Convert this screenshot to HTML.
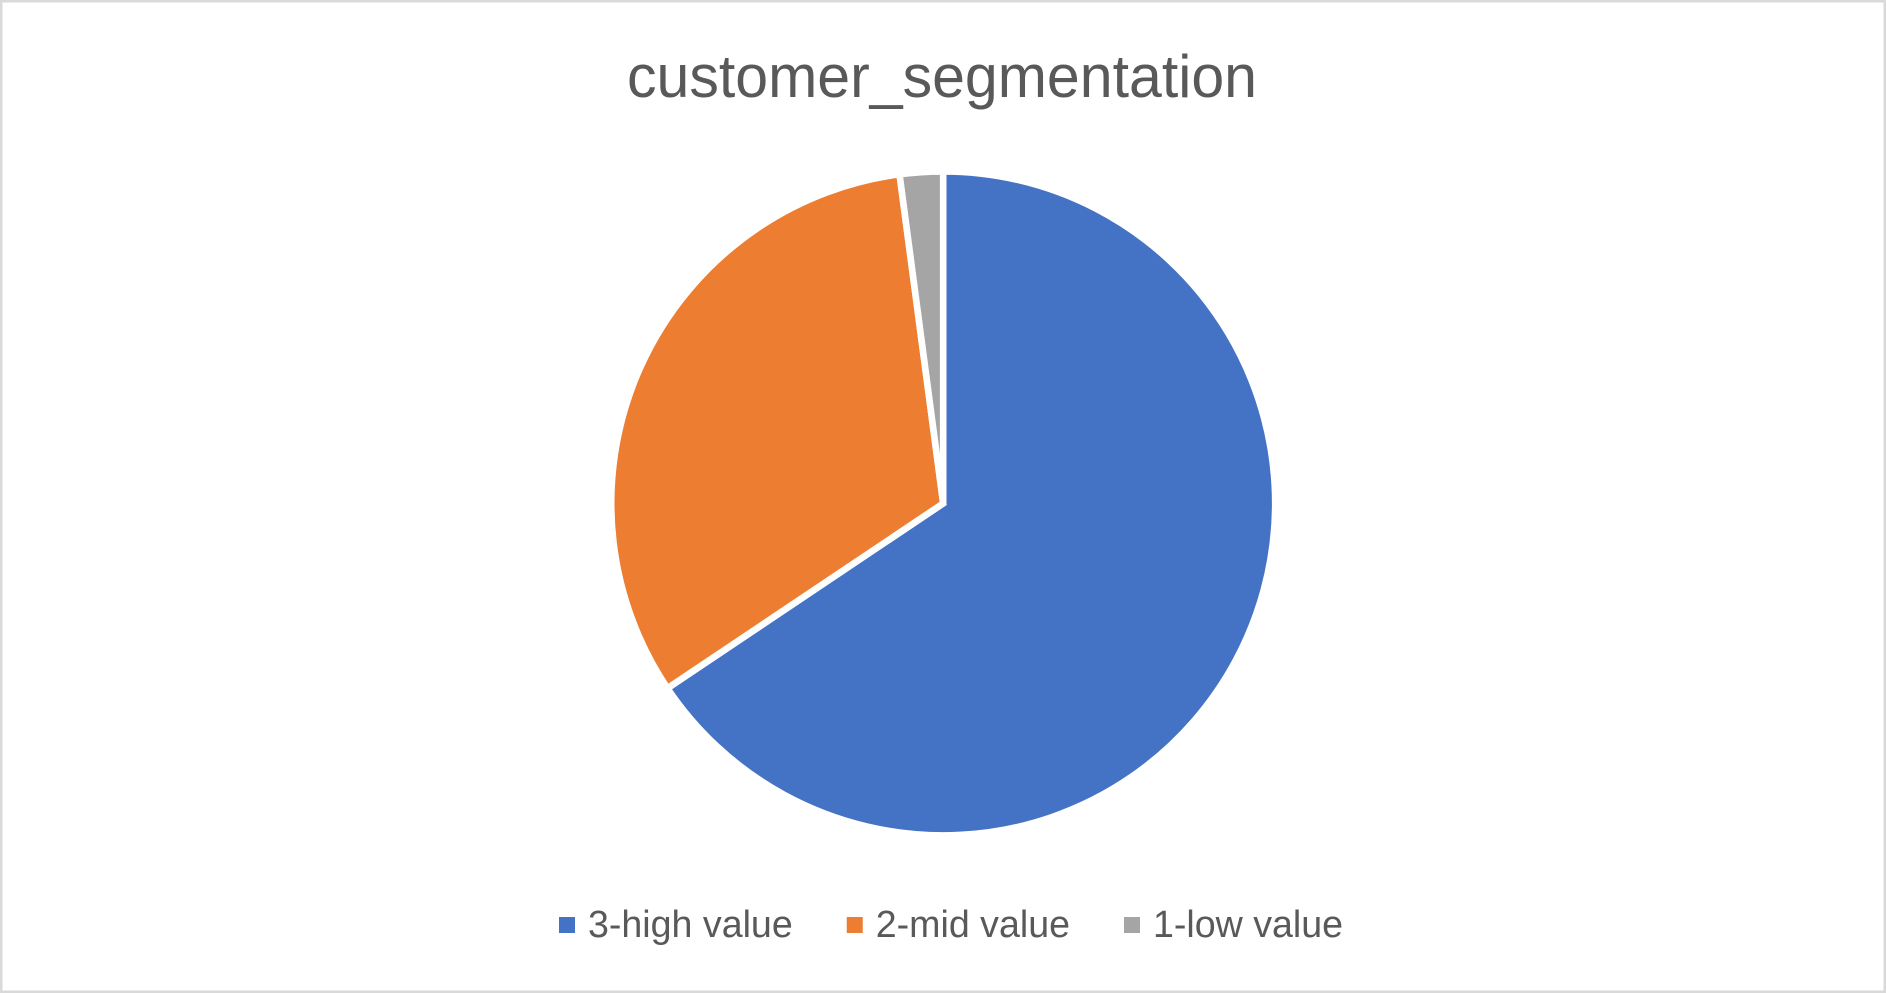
<!DOCTYPE html>
<html lang="en">
<head>
<meta charset="utf-8">
<title>customer_segmentation</title>
<style>
  html, body { margin: 0; padding: 0; background: #ffffff; }
  body { width: 1886px; height: 993px; overflow: hidden; }
  svg { display: block; }
  text { font-family: "Liberation Sans", sans-serif; fill: #595959; }
</style>
</head>
<body>
<svg id="chart" xmlns="http://www.w3.org/2000/svg" width="1886" height="993" viewBox="0 0 1886 993">
  <rect x="1.25" y="1.25" width="1883.5" height="990.5" fill="#ffffff" stroke="#d9d9d9" stroke-width="2.5"></rect>
  <text x="627" y="97" font-size="60" textLength="630" lengthAdjust="spacingAndGlyphs">customer_segmentation</text>
  <g id="slices"></g>
  <g id="legend"></g>
</svg>
<script>
const categories = ['3-high value', '2-mid value', '1-low value'];
const shares = [65.6, 32.3, 2.1];
const sliceColors = ['#4472C4', '#ED7D31', '#A5A5A5'];

const SVG_NS = 'http://www.w3.org/2000/svg';
const centerX = 943.2;
const centerY = 503.4;
const pieRadius = 332;
const legendStartX = 559;
const legendBaseline = 937;

function angleForShare(cumulative, total) {
  return (cumulative / total) * 2 * Math.PI;
}

function pointAt(angle) {
  return [centerX + pieRadius * Math.sin(angle), centerY - pieRadius * Math.cos(angle)];
}

function slicePath(startAngle, endAngle) {
  const start = pointAt(startAngle);
  const end = pointAt(endAngle);
  const largeArc = endAngle - startAngle > Math.PI ? 1 : 0;
  return 'M' + centerX + ' ' + centerY +
    ' L' + start[0] + ' ' + start[1] +
    ' A' + pieRadius + ' ' + pieRadius + ' 0 ' + largeArc + ' 1 ' + end[0] + ' ' + end[1] + ' Z';
}

function drawSlices() {
  const group = document.getElementById('slices');
  const total = shares.reduce(function (a, b) { return a + b; }, 0);
  let running = 0;
  shares.forEach(function (value, i) {
    const startAngle = angleForShare(running, total);
    running += value;
    const endAngle = angleForShare(running, total);
    const path = document.createElementNS(SVG_NS, 'path');
    path.setAttribute('d', slicePath(startAngle, endAngle));
    path.setAttribute('fill', sliceColors[i]);
    path.setAttribute('stroke', '#ffffff');
    path.setAttribute('stroke-width', '6.6');
    path.setAttribute('stroke-linejoin', 'miter');
    
    
    group.appendChild(path);
  });
}

function drawLegend() {
  const group = document.getElementById('legend');
  let x = legendStartX;
  categories.forEach(function (label, i) {
    const swatch = document.createElementNS(SVG_NS, 'rect');
    swatch.setAttribute('x', x);
    swatch.setAttribute('y', legendBaseline - 20);
    swatch.setAttribute('width', 16);
    swatch.setAttribute('height', 16);
    swatch.setAttribute('fill', sliceColors[i]);
    
    
    group.appendChild(swatch);

    const text = document.createElementNS(SVG_NS, 'text');
    text.setAttribute('x', x + 29);
    text.setAttribute('y', legendBaseline);
    text.setAttribute('font-size', '37.6');
    text.textContent = label;
    
    
    group.appendChild(text);

    x += 29 + text.getComputedTextLength() + 54;
  });
}

drawSlices();
drawLegend();
</script>
</body>
</html>
